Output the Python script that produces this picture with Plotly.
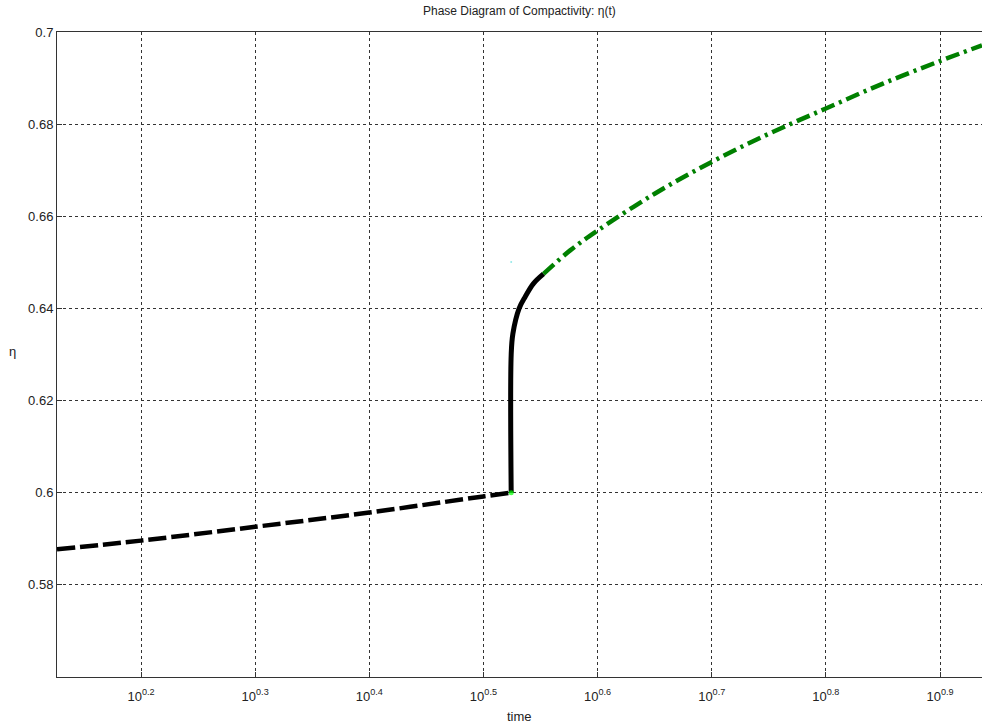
import plotly.graph_objects as go

# Phase 1: slow compaction (black dashed)
t_phase1 = [1.3378, 1.5849, 1.9953, 2.5119, 3.1623, 3.3444]
eta_phase1 = [0.5877, 0.5896, 0.5926, 0.5957, 0.5992, 0.6000]

# Transition (black solid)
t_trans = [3.3444, 3.3444, 3.3558, 3.3985, 3.4396, 3.4978, 3.5696]
eta_trans = [0.6000, 0.6300, 0.6345, 0.6400, 0.6425, 0.6454, 0.6475]

# Phase 2 (green dash-dot)
t_phase2 = [3.5696, 3.7670, 3.9811, 4.4668, 5.0119, 5.6234, 6.3096, 7.0795, 7.9433, 8.6455]
eta_phase2 = [0.6475, 0.6526, 0.6569, 0.6649, 0.6718, 0.6779, 0.6834, 0.6888, 0.6937, 0.6971]

# Stray points
t_points = [3.3444, 3.3444]
eta_points = [0.6000, 0.6501]
point_colors = ["#00ff00", "#66e0e0"]
point_sizes = [5, 2]

xtick_exp = ["0.2", "0.3", "0.4", "0.5", "0.6", "0.7", "0.8", "0.9"]
xtick_vals = [10 ** float(e) for e in xtick_exp]
xtick_text = ["10<sup>" + e + "</sup>" for e in xtick_exp]
ytick_vals = [0.58, 0.60, 0.62, 0.64, 0.66, 0.68, 0.70]
ytick_text = ["0.58", "0.6", "0.62", "0.64", "0.66", "0.68", "0.7"]

fig = go.Figure()
fig.add_trace(go.Scatter(x=t_phase1, y=eta_phase1, mode="lines",
                         line=dict(color="black", width=4.5, dash="18px,5px"), line_shape="spline"))
fig.add_trace(go.Scatter(x=t_trans, y=eta_trans, mode="lines",
                         line=dict(color="black", width=5), line_shape="spline"))
fig.add_trace(go.Scatter(x=t_phase2, y=eta_phase2, mode="lines",
                         line=dict(color="#008000", width=4.5, dash="14px,5px,3px,5px"), line_shape="spline"))
fig.add_trace(go.Scatter(x=t_points, y=eta_points, mode="markers",
                         marker=dict(color=point_colors, size=point_sizes, line=dict(width=0))))

font_family = "Liberation Sans, Arial, sans-serif"
fig.update_layout(
    width=982, height=724,
    margin=dict(l=57, r=0, t=32, b=47, pad=0),
    paper_bgcolor="white", plot_bgcolor="white",
    showlegend=False,
    font=dict(family=font_family, size=13, color="#222"),
    xaxis=dict(type="log", range=[0.1264, 0.9368], tickvals=xtick_vals, ticktext=xtick_text,
               showgrid=True, gridcolor="#333", gridwidth=1, griddash="3px,3px",
               showline=True, linecolor="#333", linewidth=1, mirror=True,
               ticks="inside", ticklen=5, tickcolor="#333", zeroline=False,
               automargin=False, ticklabelstandoff=7,
               tickfont=dict(size=13, family=font_family, color="#222")),
    yaxis=dict(range=[0.56, 0.70], tickvals=ytick_vals, ticktext=ytick_text,
               showgrid=True, gridcolor="#333", gridwidth=1, griddash="3px,3px",
               showline=True, linecolor="#333", linewidth=1, mirror=True,
               ticks="inside", ticklen=5, tickcolor="#333", zeroline=False,
               automargin=False,
               tickfont=dict(size=13, family=font_family, color="#222")),
    annotations=[
        dict(text="Phase Diagram of Compactivity: η(t)", x=0.5, y=1, xref="paper", yref="paper",
             yshift=21, showarrow=False, font=dict(size=12, family=font_family, color="#222"),
             xanchor="center", yanchor="middle"),
        dict(text="time", x=0.5, y=0, xref="paper", yref="paper", yshift=-39, showarrow=False,
             font=dict(size=13, family=font_family, color="#222"), xanchor="center", yanchor="middle"),
        dict(text="η", x=0, y=0.5, xref="paper", yref="paper", xshift=-45, yshift=3, showarrow=False,
             font=dict(size=13, family=font_family, color="#222"), xanchor="center", yanchor="middle"),
    ],
)

fig.write_html("out.html", config={"displayModeBar": False},
               post_script="document.body.style.margin='0px';")
